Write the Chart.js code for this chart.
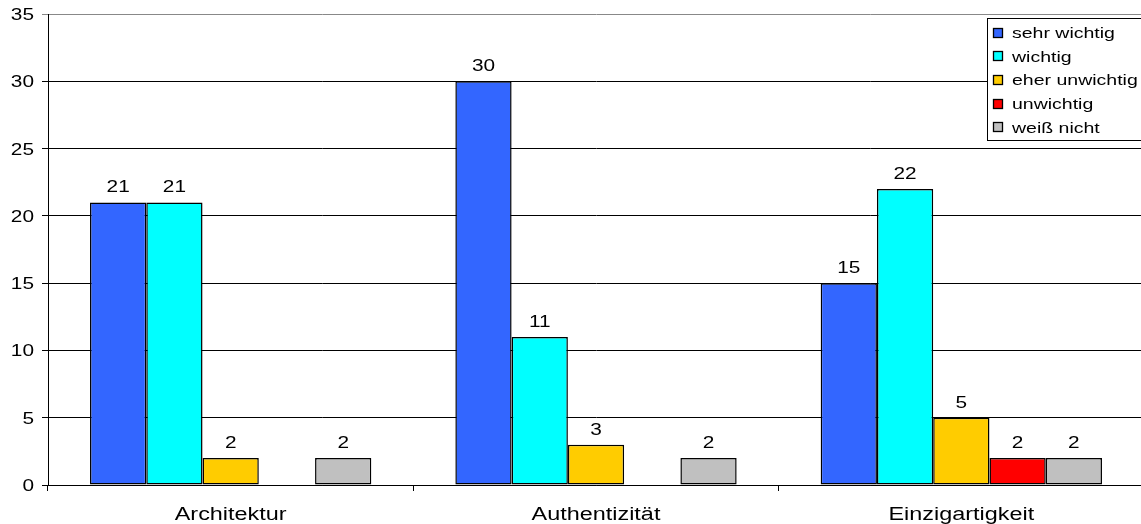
<!DOCTYPE html>
<html>
<head>
<meta charset="utf-8">
<script src="https://cdn.jsdelivr.net/npm/chart.js@4/dist/chart.umd.min.js"></script>
<style>
  html, body { margin: 0; padding: 0; background: #fff; overflow: hidden; }
  #wrap { width: 1141px; height: 524px; overflow: hidden; }
</style>
</head>
<body>
<div id="wrap"><canvas id="c" width="1146" height="524" style="width:1146px;height:524px"></canvas></div>
<script>
// data
const categories = ['Architektur', 'Authentizität', 'Einzigartigkeit'];
const seriesNames = ['sehr wichtig', 'wichtig', 'eher unwichtig', 'unwichtig', 'weiß nicht'];
const sehrWichtig = [21, 30, 15];
const wichtig = [21, 11, 22];
const eherUnwichtig = [2, 3, 5];
const unwichtig = [0, 0, 2];
const weissNicht = [2, 2, 2];
const seriesColors = ['#3366FF', '#00FFFF', '#FFCC00', '#FF0000', '#C0C0C0'];

const FONT = '"Liberation Sans", Arial, sans-serif';
const SX = 1.3; // text in the picture is stretched sideways

function stretchedText(ctx, str, x, y, align, size) {
  ctx.save();
  ctx.font = size + 'px ' + FONT;
  ctx.fillStyle = '#000';
  ctx.textAlign = align;
  ctx.textBaseline = 'alphabetic';
  ctx.translate(x, y);
  ctx.scale(SX, 1);
  ctx.fillText(str, 0, 0);
  ctx.restore();
}

const textPlugin = {
  id: 'textPlugin',
  afterDraw(chart) {
    const ctx = chart.ctx;
    const xs = chart.scales.x, ys = chart.scales.y;

    // y tick labels
    ys.ticks.forEach((t, i) => {
      stretchedText(ctx, String(t.value), 34, ys.getPixelForTick(i) + 6, 'right', 16);
    });
    // category labels
    xs.ticks.forEach((t, i) => {
      stretchedText(ctx, categories[i], xs.getPixelForTick(i), 520, 'center', 18);
    });
    // value labels over the bars
    chart.data.datasets.forEach((ds, di) => {
      const meta = chart.getDatasetMeta(di);
      meta.data.forEach((bar, i) => {
        if (!ds.data[i]) return;
        stretchedText(ctx, String(ds.data[i]), bar.x, bar.y - 10, 'center', 16);
      });
    });

    // legend box
    const bx = 987, by = 18, bh = 122;
    ctx.save();
    ctx.fillStyle = '#fff';
    ctx.fillRect(bx, by, 200, bh);
    ctx.strokeStyle = '#000';
    ctx.lineWidth = 1;
    ctx.strokeRect(bx + 0.5, by + 0.5, 200, bh);
    chart.data.datasets.forEach((ds, di) => {
      const cy = 32.5 + di * 23.7;
      const top = Math.round(cy - 5);
      ctx.fillStyle = ds.backgroundColor;
      ctx.fillRect(993, top, 10, 10);
      ctx.strokeStyle = '#000';
      ctx.lineWidth = 1.3;
      ctx.strokeRect(993.5, top + 0.5, 9, 9);
      stretchedText(ctx, ds.label, 1012, cy + 5.5, 'left', 15);
    });
    ctx.restore();
  }
};

const allSeries = [sehrWichtig, wichtig, eherUnwichtig, unwichtig, weissNicht];

new Chart(document.getElementById('c'), {
  type: 'bar',
  data: {
    labels: categories,
    datasets: allSeries.map((vals, i) => ({
      label: seriesNames[i],
      data: vals,
      backgroundColor: seriesColors[i],
      borderColor: '#000',
      borderWidth: 1.5,
      borderSkipped: false,
      categoryPercentage: 0.77,
      barPercentage: 1.0
    }))
  },
  options: {
    responsive: false,
    animation: false,
    layout: { padding: { top: 14, right: 2, left: 0, bottom: 0 } },
    plugins: {
      legend: { display: false },
      tooltip: { enabled: false }
    },
    scales: {
      x: {
        afterFit(scale) { scale.height = 39; },
        ticks: { display: false },
        grid: {
          offset: true,
          drawOnChartArea: false,
          drawTicks: true,
          tickLength: 6,
          color: '#000'
        },
        border: { display: true, color: '#000' }
      },
      y: {
        min: 0,
        max: 35,
        afterFit(scale) { scale.width = 48; },
        ticks: { stepSize: 5, display: false },
        grid: {
          drawTicks: true,
          tickLength: 6,
          color: (c) => (c.tick && c.tick.value === 35 ? '#888' : '#000')
        },
        border: { display: true, color: '#000' }
      }
    }
  },
  plugins: [textPlugin]
});
</script>
</body>
</html>
